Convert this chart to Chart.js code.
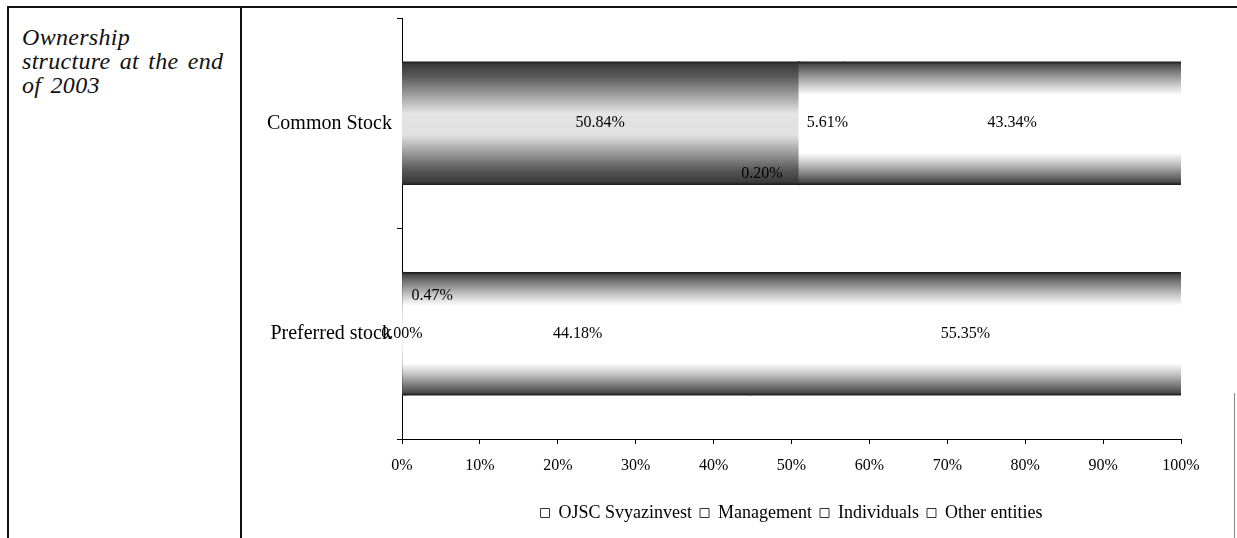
<!DOCTYPE html>
<html>
<head>
<meta charset="utf-8">
<script src="https://cdn.jsdelivr.net/npm/chart.js@4.4.1/dist/chart.umd.min.js"></script>
<style>
  html, body { margin: 0; padding: 0; background: #fff; width: 1237px; height: 538px; overflow: hidden; position: relative; }
  .rule { position: absolute; background: #111; }
  #caption { position: absolute; left: 22px; top: 25px; font: italic 24px 'Liberation Serif', 'DejaVu Serif', serif; line-height: 24px; word-spacing: 3px; letter-spacing: 0.3px; color: #111; }
  #wrap { position: absolute; left: 242px; top: 8px; width: 991px; height: 530px; }
</style>
</head>
<body>
<!-- table frame -->
<div class="rule" style="left:7px;top:6px;width:1230px;height:2px"></div>
<div class="rule" style="left:7px;top:6px;width:2px;height:532px"></div>
<div class="rule" style="left:240px;top:6px;width:2px;height:532px"></div>
<div class="rule" style="left:1234px;top:393px;width:1px;height:145px;background:#888"></div>
<div id="caption">Ownership<br>structure at the end<br>of 2003</div>
<div id="wrap"><canvas id="c" width="991" height="530"></canvas></div>
<script>
// Shareholder groups (percent of each share class)
const categories = ['Common Stock', 'Preferred stock'];
const seriesNames = ['OJSC Svyazinvest', 'Management', 'Individuals', 'Other entities'];
const svyazinvest = [50.84, 0.00];
const management = [0.20, 0.47];
const individuals = [5.61, 44.18];
const otherEntities = [43.34, 55.35];
const xTickStep = 10;

const SERIF = "'Liberation Serif', 'Times New Roman', serif";
const BAR_FRACTION = 0.583;

// vertical shading: thin dark rim, dark edges, light middle
const darkShade = [[0, '#1e1e1e'], [0.012, '#2e2e2e'], [0.02, '#3a3a3a'], [0.12, '#5a5a5a'], [0.28, '#a4a4a4'], [0.42, '#e4e4e4'], [0.6, '#e0e0e0'], [0.74, '#9c9c9c'], [0.88, '#585858'], [0.98, '#3a3a3a'], [0.988, '#2e2e2e'], [1, '#1e1e1e']];
const lightShade = [[0, '#1e1e1e'], [0.012, '#333333'], [0.02, '#4a4a4a'], [0.08, '#7a7a7a'], [0.18, '#c4c4c4'], [0.27, '#ffffff'], [0.74, '#ffffff'], [0.83, '#c4c4c4'], [0.92, '#7a7a7a'], [0.98, '#4a4a4a'], [0.988, '#333333'], [1, '#1e1e1e']];

function barShade(stops) {
  return (ctx) => {
    const chart = ctx.chart;
    const y = chart.scales && chart.scales.y;
    if (!chart.chartArea || !y || ctx.type !== 'data') return '#cccccc';
    const band = (y.bottom - y.top) / categories.length;
    const half = band * BAR_FRACTION / 2;
    const c = y.getPixelForValue(ctx.dataIndex);
    const g = chart.ctx.createLinearGradient(0, c - half, 0, c + half);
    stops.forEach(([o, col]) => g.addColorStop(o, col));
    return g;
  };
}

// percentage text on each segment
const valueLabels = {
  id: 'valueLabels',
  afterDatasetsDraw(chart, args, opts) {
    const ctx = chart.ctx;
    ctx.save();
    ctx.font = opts.size + 'px ' + SERIF;
    ctx.fillStyle = '#000';
    ctx.textAlign = 'center';
    ctx.textBaseline = 'middle';
    chart.data.datasets.forEach((ds, di) => {
      chart.getDatasetMeta(di).data.forEach((bar, i) => {
        const s = (opts.shift[di] && opts.shift[di][i]) || [0, 0];
        ctx.fillText(ds.data[i].toFixed(2) + '%', (bar.x + bar.base) / 2 + s[0], bar.y + s[1]);
      });
    });
    ctx.restore();
  }
};

const seriesValues = [svyazinvest, management, individuals, otherEntities];
const shades = [darkShade, lightShade, lightShade, lightShade];

new Chart(document.getElementById('c'), {
  type: 'bar',
  data: {
    labels: categories,
    datasets: seriesNames.map((name, i) => ({
      label: name,
      data: seriesValues[i],
      backgroundColor: barShade(shades[i]),
      borderWidth: 0,
      inflateAmount: 0.5,
      categoryPercentage: 1,
      barPercentage: BAR_FRACTION
    }))
  },
  options: {
    indexAxis: 'y',
    responsive: false,
    devicePixelRatio: 1,
    animation: false,
    events: [],
    layout: { padding: { top: 10, right: 52, bottom: 6, left: 0 } },
    scales: {
      x: {
        stacked: true,
        min: 0,
        max: 100,
        ticks: { stepSize: xTickStep, callback: v => v + '%', color: '#000', padding: 12, font: { family: SERIF, size: 16 } },
        grid: { drawOnChartArea: false, drawTicks: true, tickLength: 5, color: '#000' },
        border: { color: '#000', width: 1 },
        afterFit: s => { s.height = 57; }
      },
      y: {
        stacked: true,
        ticks: { color: '#000', padding: 5, font: { family: SERIF, size: 20 } },
        grid: { drawOnChartArea: false, drawTicks: true, tickLength: 5, color: '#000', offset: true },
        border: { color: '#000', width: 1 },
        afterFit: s => { s.width = 160; s.paddingTop = 0; s.paddingBottom = 0; }
      }
    },
    plugins: {
      tooltip: { enabled: false },
      legend: {
        position: 'bottom',
        fullSize: false,
        labels: {
          boxWidth: 9,
          boxHeight: 9,
          padding: 8,
          color: '#000',
          font: { family: SERIF, size: 18 },
          generateLabels: chart => chart.data.datasets.map((ds, i) => ({
            text: ds.label, fillStyle: '#fff', strokeStyle: '#333', lineWidth: 1,
            hidden: false, datasetIndex: i, fontColor: '#000'
          }))
        }
      },
      valueLabels: {
        size: 16,
        shift: { 1: { 0: [-37, 51], 1: [28, -38] }, 2: { 0: [6, 0] } }
      }
    }
  },
  plugins: [valueLabels]
});
</script>
</body>
</html>
